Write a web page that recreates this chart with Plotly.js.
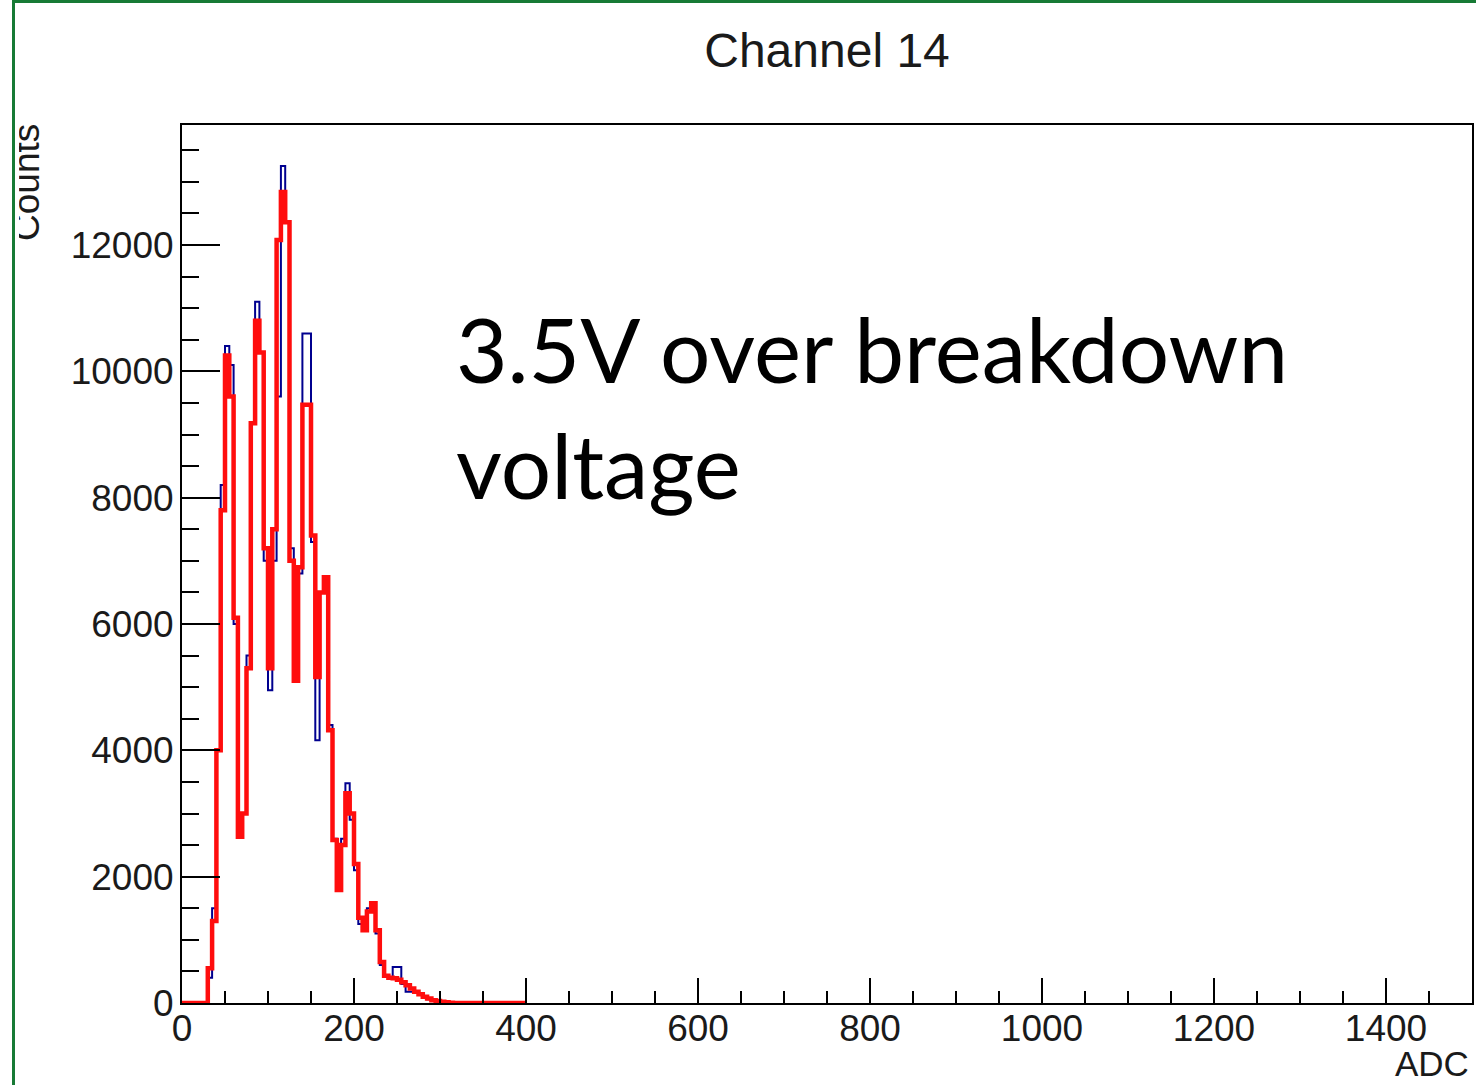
<!DOCTYPE html>
<html>
<head>
<meta charset="utf-8">
<script src="https://cdn.plot.ly/plotly-3.0.1.min.js"></script>
<style>
  html, body { margin: 0; padding: 0; background: #ffffff; }
  #wrap { position: relative; width: 1476px; height: 1085px; overflow: hidden; }
  #chart { position: absolute; left: 0; top: 0; width: 1476px; height: 1085px; }
  #maskL { position: absolute; left: 0; top: 0; width: 19px; height: 1085px; background: #ffffff; z-index: 5; pointer-events: none; }
  #borderL { position: absolute; left: 12px; top: 0; width: 3px; height: 1085px; background: #177a35; z-index: 6; }
  #borderT { position: absolute; left: 12px; top: 0; width: 1464px; height: 3px; background: #177a35; z-index: 6; }
</style>
</head>
<body>
<div id="wrap">
  <div id="chart"></div>
  <div id="maskL"></div>
  <div id="borderL"></div>
  <div id="borderT"></div>
</div>
<script>
// ---- data (ADC bin lower edges, 5 ADC wide) ----
const binEdges = [0,5,10,15,20,25,30,35,40,45,50,55,60,65,70,75,80,85,90,95,
  100,105,110,115,120,125,130,135,140,145,150,155,160,165,170,175,180,185,190,195,
  200,205,210,215,220,225,230,235,240,245,250,255,260,265,270,275,280,285,290,295,
  300,305,310,315];
const binUpperEnd = 320;

// blue histogram (data)
const blueCounts = [0,0,0,0,0,0,400,1500,4000,8200,10400,10100,6000,2950,3000,5500,9200,11100,10300,7000,
  4950,7000,9600,13250,12360,7200,5200,6800,10600,10600,7300,4160,6500,6740,4400,2600,1800,2600,3480,2900,
  2100,1250,1150,1500,1580,1100,600,420,380,570,570,300,180,180,170,130,80,60,40,25,
  15,10,5,0];
// red histogram (fit / smoothed)
const redCounts = [0,0,0,0,0,0,550,1300,4000,7800,10250,9600,6100,2630,3000,5300,9180,10800,10300,7200,
  5300,7500,12080,12840,12360,7000,5100,6900,9470,9470,7400,5160,6500,6740,4320,2580,1790,2500,3320,3000,
  2200,1350,1150,1450,1580,1150,650,430,400,390,370,330,280,230,180,140,100,70,45,30,
  20,10,5,0];

const blueRangeEnd = 400;
const redRangeEnd = 400;

const xTickVals = [0,200,400,600,800,1000,1200,1400];
const yTickVals = [0,2000,4000,6000,8000,10000,12000];

const chartTitle = 'Channel 14';
const xTitle = 'ADC';
const yTitle = 'Counts';
const noteText = '3.5V over breakdown<br>voltage';

function stepSeries(edges, counts, upper, rangeEnd) {
  const xs = edges.slice();
  const ys = counts.slice();
  xs.push(upper); ys.push(0);
  xs.push(rangeEnd); ys.push(0);
  return {x: xs, y: ys};
}

const blue = stepSeries(binEdges, blueCounts, binUpperEnd, blueRangeEnd);
const red = stepSeries(binEdges, redCounts, binUpperEnd, redRangeEnd);

const traces = [
  {x: blue.x, y: blue.y, type: 'scatter', mode: 'lines',
   line: {shape: 'hv', color: '#00008f', width: 2}, hoverinfo: 'skip', showlegend: false},
  {x: red.x, y: red.y, type: 'scatter', mode: 'lines',
   line: {shape: 'hv', color: '#ff0d0d', width: 4.5}, hoverinfo: 'skip', showlegend: false}
];

const PL = 182, PR = 1472, PT = 125, PB = 1003;
const px2paperX = p => (p - PL) / (PR - PL);
const px2paperY = p => (PB - p) / (PB - PT);

const axisFont = {family: 'Liberation Sans, Arial, sans-serif', size: 37, color: '#1a1a1a'};

const layout = {
  width: 1476, height: 1085,
  margin: {l: PL, r: 1476 - PR, t: PT, b: 1085 - PB, pad: 0},
  paper_bgcolor: '#ffffff', plot_bgcolor: '#ffffff',
  title: {text: chartTitle, x: 0.5, xref: 'paper', xanchor: 'center',
          y: 1 - 50 / 1085, yref: 'container', yanchor: 'middle',
          font: {family: 'Liberation Sans, Arial, sans-serif', size: 48, color: '#1a1a1a'}},
  xaxis: {range: [0, 1500], showgrid: false, zeroline: false,
          showline: true, linecolor: '#000', linewidth: 2, mirror: true,
          ticks: 'inside', ticklen: 25, tickwidth: 2, tickcolor: '#000',
          tickvals: xTickVals, tickformat: 'd', tickfont: axisFont,
          minor: {dtick: 50, tick0: 0, ticks: 'inside', ticklen: 12, tickwidth: 2, tickcolor: '#000'},
          ticklabelstandoff: -8},
  yaxis: {range: [0, 13900], showgrid: false, zeroline: false,
          showline: true, linecolor: '#000', linewidth: 2, mirror: true,
          ticks: 'inside', ticklen: 38, tickwidth: 2, tickcolor: '#000',
          tickvals: yTickVals, tickformat: 'd', tickfont: axisFont,
          minor: {dtick: 500, tick0: 0, ticks: 'inside', ticklen: 17, tickwidth: 2, tickcolor: '#000'},
          ticklabelstandoff: -1},
  annotations: [
    {text: noteText, xref: 'paper', yref: 'paper', x: px2paperX(454), y: px2paperY(293),
     xanchor: 'left', yanchor: 'top', align: 'left', showarrow: false,
     font: {family: 'Lato, Open Sans, sans-serif', size: 89, color: '#000'}},
    {text: xTitle, xref: 'paper', yref: 'paper', x: px2paperX(1471), y: px2paperY(1063),
     xanchor: 'right', yanchor: 'middle', showarrow: false,
     font: {family: 'Liberation Sans, Arial, sans-serif', size: 35, color: '#1a1a1a'}},
    {text: yTitle, xref: 'paper', yref: 'paper', x: px2paperX(26), y: px2paperY(183),
     xanchor: 'center', yanchor: 'middle', textangle: -90, showarrow: false,
     font: {family: 'Liberation Sans, Arial, sans-serif', size: 37, color: '#1a1a1a'}}
  ]
};

Plotly.newPlot('chart', traces, layout, {staticPlot: true, displayModeBar: false});
</script>
</body>
</html>
